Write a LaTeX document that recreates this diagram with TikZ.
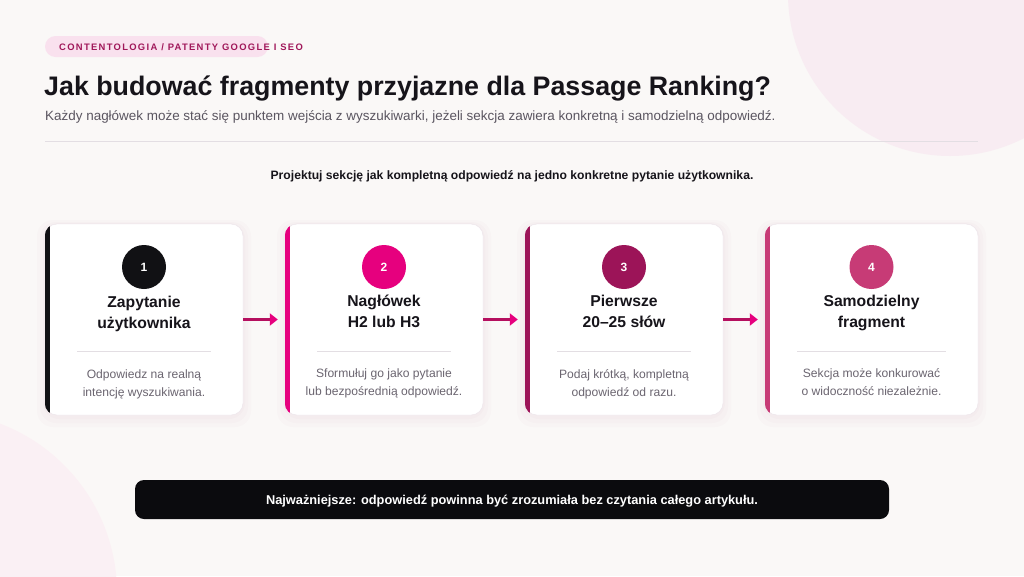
\documentclass[tikz,border=0pt]{standalone}
\usepackage{fontspec}
\setmainfont{Liberation Sans}
\newfontfamily\tagfont[LetterSpace=14]{Liberation Sans}
\usetikzlibrary{arrows.meta}
\definecolor{paper}{HTML}{FAF8F7}
\definecolor{blob}{HTML}{F8ECF2}
\definecolor{blobb}{HTML}{FAF0F4}
\definecolor{tagbg}{HTML}{F9E1EE}
\definecolor{tagink}{HTML}{A0185A}
\definecolor{ink}{HTML}{16141A}
\definecolor{grey}{HTML}{5A5560}
\definecolor{descink}{HTML}{6B6570}
\definecolor{rule}{HTML}{E3DEE3}
\definecolor{cardline}{HTML}{ECE4EA}
\definecolor{halo}{HTML}{A05080}
\definecolor{stepa}{HTML}{111114}
\definecolor{stepb}{HTML}{E6007E}
\definecolor{stepc}{HTML}{9C1458}
\definecolor{stepd}{HTML}{C73B76}
\definecolor{arrowink}{HTML}{B50F5F}
\definecolor{noteink}{HTML}{0B0B0E}
\tikzset{card/.style={draw=cardline, fill=white, rounded corners=12pt, inner sep=0pt,
    minimum height=191pt}}
\tikzset{num/.style={circle, minimum size=44pt, inner sep=0pt, text=white,
    font=\bfseries\fontsize{12}{12}\selectfont}}
\tikzset{head/.style={align=center, text=ink, font=\bfseries\fontsize{15.7}{21}\selectfont}}
\tikzset{desc/.style={align=center, text=descink, font=\fontsize{12.1}{18}\selectfont}}
\tikzset{sep/.style={draw=rule, line width=1pt}}
\tikzset{halofill/.style={fill=halo, opacity=0.018}}
\tikzset{flow/.style={draw=arrowink, line width=3pt, shorten >=7pt,
    -{Triangle[length=8pt, width=12pt, color=stepb]}}}

\begin{document}
\begin{tikzpicture}[x=1pt, y=-1pt]
  \useasboundingbox (0,0) rectangle (1024,576);
  \clip (0,0) rectangle (1024,576);
  \fill[paper] (0,0) rectangle (1024,576);
  \fill[blob] (950,-6) circle (162);
  \fill[blobb] (-64,593) circle (181);

  % naglowek strony
  \fill[tagbg, rounded corners=10.5pt] (45,36) rectangle (268,57);
  \node[anchor=base west, inner sep=0pt, text=tagink, font=\tagfont\bfseries\fontsize{9.4}{9.4}\selectfont]
    (tag) at (59,50.3) {CONTENTOLOGIA / PATENTY GOOGLE I SEO};
  \node[anchor=base west, inner sep=0pt, text=ink, font=\bfseries\fontsize{26.8}{27}\selectfont]
    (title) at (44,95) {Jak budować fragmenty przyjazne dla Passage Ranking?};
  \node[anchor=base west, inner sep=0pt, text=grey, font=\fontsize{13.45}{14}\selectfont]
    (sub) at (45,120) {Każdy nagłówek może stać się punktem wejścia z wyszukiwarki, jeżeli sekcja zawiera konkretną i samodzielną odpowiedź.};
  \draw[sep] (45,141) -- (978,141);
  \node[anchor=base, inner sep=0pt, text=ink, font=\bfseries\fontsize{12.15}{13}\selectfont]
    (lead) at (512,179.5) {Projektuj sekcję jak kompletną odpowiedź na jedno konkretne pytanie użytkownika.};

  % cienie kart
  \begin{scope}[rounded corners=16pt]
    \fill[halofill] (37,220) rectangle (251,427);
    \fill[halofill] (277,220) rectangle (491,427);
    \fill[halofill] (517,220) rectangle (731,427);
    \fill[halofill] (757,220) rectangle (986,427);
    \fill[halofill] (40,222) rectangle (248,423);
    \fill[halofill] (280,222) rectangle (488,423);
    \fill[halofill] (520,222) rectangle (728,423);
    \fill[halofill] (760,222) rectangle (983,423);
    \fill[halofill] (43,223) rectangle (245,419);
    \fill[halofill] (283,223) rectangle (485,419);
    \fill[halofill] (523,223) rectangle (725,419);
    \fill[halofill] (763,223) rectangle (980,419);
  \end{scope}

  % karty
  \node[card, minimum width=198pt] (c1) at (144,319.5) {};
  \node[card, minimum width=198pt] (c2) at (384,319.5) {};
  \node[card, minimum width=198pt] (c3) at (624,319.5) {};
  \node[card, minimum width=213pt] (c4) at (871.5,319.5) {};
  \begin{scope}
    \clip[rounded corners=12pt] (c1.south west) rectangle (c1.north east);
    \fill[stepa] (c1.north west) rectangle ([xshift=5pt]c1.south west);
  \end{scope}
  \begin{scope}
    \clip[rounded corners=12pt] (c2.south west) rectangle (c2.north east);
    \fill[stepb] (c2.north west) rectangle ([xshift=5pt]c2.south west);
  \end{scope}
  \begin{scope}
    \clip[rounded corners=12pt] (c3.south west) rectangle (c3.north east);
    \fill[stepc] (c3.north west) rectangle ([xshift=5pt]c3.south west);
  \end{scope}
  \begin{scope}
    \clip[rounded corners=12pt] (c4.south west) rectangle (c4.north east);
    \fill[stepd] (c4.north west) rectangle ([xshift=5pt]c4.south west);
  \end{scope}

  \node[num, fill=stepa] (n1) at (144,267) {1};
  \node[head] (h1) at (144,313.5) {Zapytanie\\użytkownika};
  \draw[sep] (77,351) -- (211,351);
  \node[desc] (d1) at (144,384) {Odpowiedz na realną\\intencję wyszukiwania.};

  \node[num, fill=stepb] (n2) at (384,267) {2};
  \node[head] (h2) at (384,311.5) {Nagłówek\\H2 lub H3};
  \draw[sep] (317,351) -- (451,351);
  \node[desc] (d2) at (384,383.5) {Sformułuj go jako pytanie\\lub bezpośrednią odpowiedź.};

  \node[num, fill=stepc] (n3) at (624,267) {3};
  \node[head] (h3) at (624,311.5) {Pierwsze\\20–25 słów};
  \draw[sep] (557,351) -- (691,351);
  \node[desc] (d3) at (624,384) {Podaj krótką, kompletną\\odpowiedź od razu.};

  \node[num, fill=stepd] (n4) at (871.5,267) {4};
  \node[head] (h4) at (871.5,312.5) {Samodzielny\\fragment};
  \draw[sep] (797,351) -- (946,351);
  \node[desc] (d4) at (871.5,382) {Sekcja może konkurować\\o widoczność niezależnie.};

  \draw[flow] (c1.east) -- (c2.west);
  \draw[flow] (c2.east) -- (c3.west);
  \draw[flow] (c3.east) -- (c4.west);

  % podsumowanie
  \node[fill=noteink, rounded corners=9pt, minimum width=754pt, minimum height=39pt,
    text height=9pt, text depth=0pt, text=white, font=\bfseries\fontsize{12.8}{13}\selectfont]
    (note) at (512,499.5) {Najważniejsze: odpowiedź powinna być zrozumiała bez czytania całego artykułu.};
\end{tikzpicture}
\end{document}
